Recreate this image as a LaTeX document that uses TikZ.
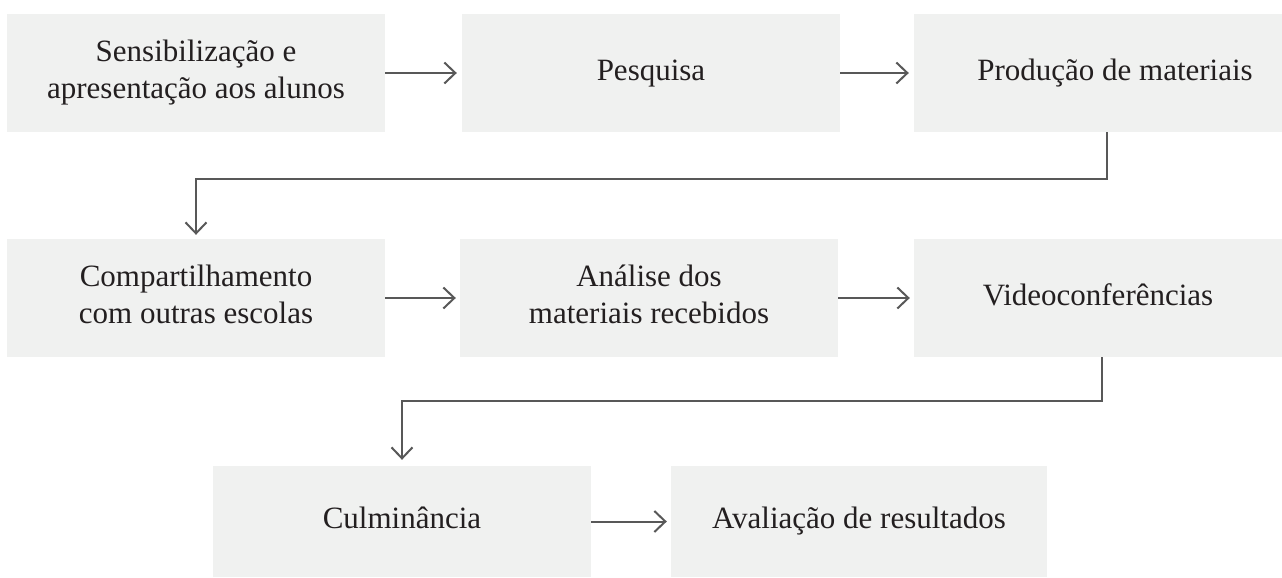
\documentclass[tikz,border=0pt]{standalone}
\usepackage{fontspec}
\setmainfont{Liberation Serif}
\usetikzlibrary{arrows.meta}
\definecolor{boxfill}{HTML}{F0F1F0}
\definecolor{linegray}{HTML}{585858}
\definecolor{txt}{HTML}{231F20}
\begin{document}
\begin{tikzpicture}[x=1pt,y=-1pt,
  stepbox/.style={fill=boxfill,draw=none,minimum width=378pt,minimum height=118pt,
    inner sep=0pt,align=center,text=txt,font=\fontsize{31}{37}\selectfont},
  conn/.style={draw=linegray,line width=2pt,-{Straight Barb[length=11pt,width=21pt,line width=2pt]}}]
\useasboundingbox (0,0) rectangle (1282,578);
\clip (0,0) rectangle (1282,578);
% row 1
\node[stepbox] (b1) at (196,73) {\strut Sensibilização e\\\strut apresentação aos alunos};
\node[stepbox] (b2) at (651,73) {\strut Pesquisa};
\node[stepbox,minimum width=402pt] (b3) at (1115,73) {\strut Produção de materiais};
% row 2
\node[stepbox] (b4) at (196,298) {\strut Compartilhamento\\\strut com outras escolas};
\node[stepbox] (b5) at (649,298) {\strut Análise dos\\\strut materiais recebidos};
\node[stepbox,minimum width=368pt] (b6) at (1098,298) {\strut Videoconferências};
% row 3
\node[stepbox,minimum height=111pt] (b7) at (402,521.5) {\strut Culminância};
\node[stepbox,minimum width=376pt,minimum height=111pt] (b8) at (859,521.5) {\strut Avaliação de resultados};
% connectors
\draw[conn,shorten >=5pt] (b1.east) -- (b2.west);
\draw[conn,shorten >=5pt] (b2.east) -- (b3.west);
\draw[conn,shorten >=4pt] (b4.east) -- (b5.west);
\draw[conn,shorten >=4pt] (b5.east) -- (b6.west);
\draw[conn,shorten >=4pt] (b7.east) -- (b8.west);
\draw[conn,shorten >=4pt] ([xshift=-8pt]b3.south) -- ++(0,47) -| (b4.north);
\draw[conn,shorten >=6pt] ([xshift=4pt]b6.south) -- ++(0,44) -| (b7.north);
\end{tikzpicture}
\end{document}
